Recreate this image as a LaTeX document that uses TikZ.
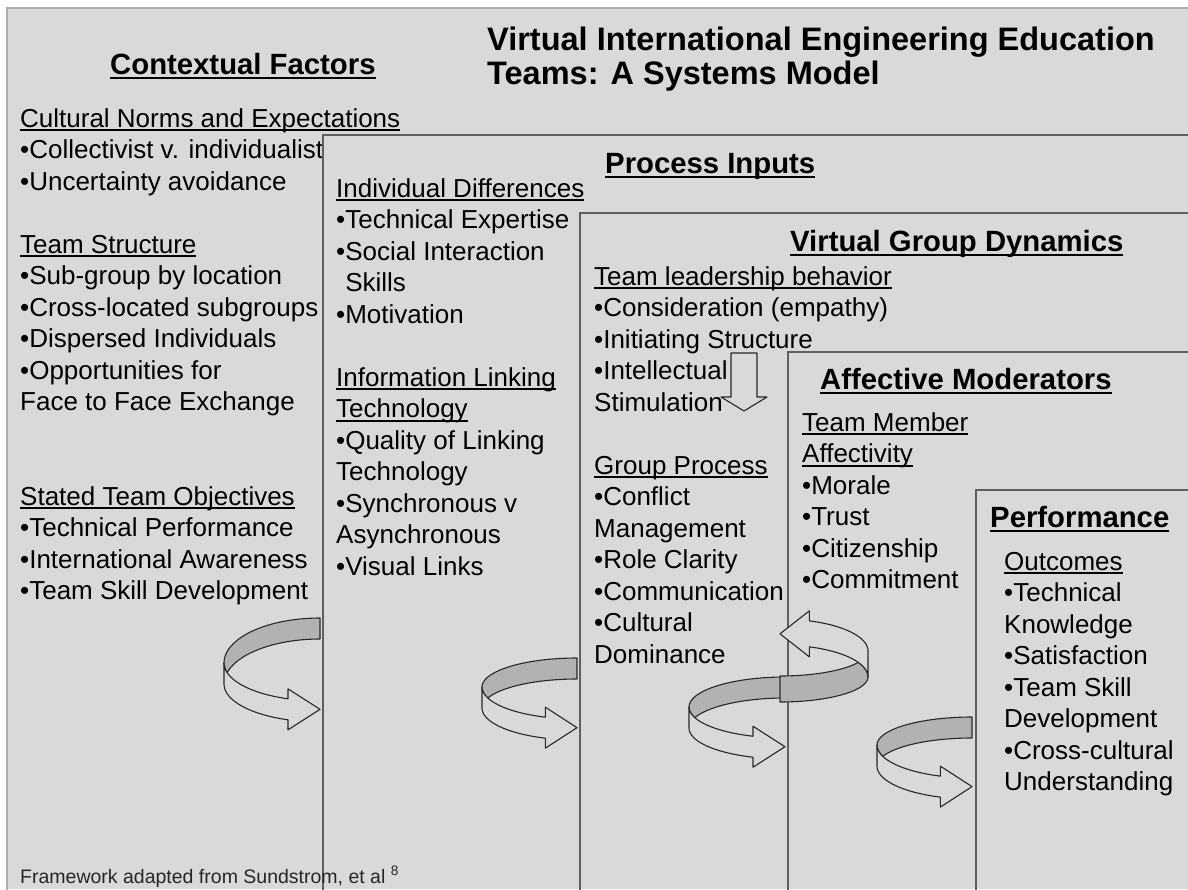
\documentclass[tikz,border=0pt]{standalone}
\usepackage{fontspec}
\setmainfont{Liberation Sans}
\usetikzlibrary{positioning}

\definecolor{panelgray}{RGB}{217,217,217}
\definecolor{boxline}{RGB}{95,95,95}
\definecolor{framegray}{RGB}{175,175,175}
\definecolor{bandgray}{RGB}{178,178,178}
\definecolor{inkgray}{RGB}{40,40,40}

% underlined labels
\newcommand{\uline}[1]{\setbox0\hbox{#1}\rlap{\rule[-4pt]{\wd0}{1.6pt}}\box0}
\newcommand{\headuline}[1]{\setbox0\hbox{#1}\rlap{\rule[-5pt]{\wd0}{2.4pt}}\box0}

% one nested stage box, open to the right and bottom
\newcommand{\stagebox}[2]{%
  \fill[panelgray] (#1,#2) rectangle (1188,889);
  \draw[stageline] (1190,#2) -- (#1,#2) -- (#1,891);}

% circular ribbon arrow: x, y, rotation, a, back b, front b, band height
\newcommand{\cycarrow}[7]{%
  \begin{scope}[shift={(#1,#2)}, rotate=#3]
    \pgfmathsetmacro\tA{180-asin(#7/(#5+#6))}
    \pgfmathsetmacro\tB{180+asin(#7/(#5+#6))}
    \pgfmathsetmacro\yS{#6*0.9428}
    \filldraw[ribbon, fill=bandgray]
      plot[domain=270:180, samples=30] ({#4*cos(\x)},{#5*sin(\x)})
      -- plot[domain=180:\tA, samples=8] ({#4*cos(\x)},{#6*sin(\x)})
      -- plot[domain=\tB:270, samples=30] ({#4*cos(\x)},{#7+#5*sin(\x)}) -- cycle;
    \filldraw[ribbon, fill=panelgray]
      plot[domain=180:109.47, samples=30] ({#4*cos(\x)},{#6*sin(\x)})
      -- ({-#4/3},{\yS-10}) -- (0,{\yS+#7/2}) -- ({-#4/3},{\yS+#7+10})
      -- ({-#4/3},{\yS+#7})
      -- plot[domain=109.47:180, samples=30] ({#4*cos(\x)},{#7+#6*sin(\x)}) -- cycle;
  \end{scope}}

\tikzset{
  stageline/.style={boxline, line width=1.5pt},
  ribbon/.style={inkgray, line width=1.1pt, line join=round},
  body/.style={anchor=base west, inner sep=0pt, text=black, font=\fontsize{26}{31.5}\selectfont},
  heading/.style={anchor=base west, inner sep=0pt, text=black, font=\bfseries\fontsize{29.3}{34}\selectfont},
  title/.style={anchor=base west, inner sep=0pt, text=black, font=\bfseries\fontsize{32.5}{34}\selectfont},
  footnote/.style={anchor=base west, inner sep=0pt, text=black!85, font=\fontsize{19.5}{23}\selectfont}
}

\begin{document}
\begin{tikzpicture}[x=1pt, y=-1pt]
  % Canvas
  \useasboundingbox (0,0) rectangle (1188,889);
  \fill[white] (0,0) rectangle (1188,889);
  \fill[panelgray] (7,8) rectangle (1188,889);
  \draw[framegray, line width=1.5pt] (1190,8) -- (7,8) -- (7,891);

  % Title
  \node[title] (title) at (487,50) {Virtual International Engineering Education};
  \node[title] (title2) at (487,84) {Teams: A Systems Model};

  % Contextual Factors
  \node[heading] (context) at (110,74) {\headuline{Contextual Factors}};
  \foreach \i/\txt in {0/{\uline{Cultural Norms and Expectations}}, 1/{•Collectivist v. individualist},
      2/{•Uncertainty avoidance}, 4/{\uline{Team Structure}}, 5/{•Sub-group by location},
      6/{•Cross-located subgroups}, 7/{•Dispersed Individuals}, 8/{•Opportunities for},
      9/{Face to Face Exchange}, 12/{\uline{Stated Team Objectives}}, 13/{•Technical Performance},
      14/{•International Awareness}, 15/{•Team Skill Development}}
    \node[body] (ctx\i) at (20,{127+31.5*\i}) {\txt};

  % Process Inputs
  \stagebox{323}{135}
  \node[heading] (inputs) at (605,173) {\headuline{Process Inputs}};
  \foreach \i/\txt in {0/{\uline{Individual Differences}}, 1/{•Technical Expertise},
      2/{•Social Interaction}, 3/{\phantom{•}Skills}, 4/{•Motivation},
      6/{\uline{Information Linking}}, 7/{\uline{Technology}}, 8/{•Quality of Linking},
      9/{Technology}, 10/{•Synchronous v}, 11/{Asynchronous}, 12/{•Visual Links}}
    \node[body] (inp\i) at (336,{197+31.5*\i}) {\txt};

  % Virtual Group Dynamics
  \stagebox{580}{213}
  \node[heading] (dynamics) at (790,251) {\headuline{Virtual Group Dynamics}};
  \foreach \i/\txt in {0/{\uline{Team leadership behavior}}, 1/{•Consideration (empathy)},
      2/{•Initiating Structure}, 3/{•Intellectual}, 4/{Stimulation},
      6/{\uline{Group Process}}, 7/{•Conflict}, 8/{Management}, 9/{•Role Clarity},
      10/{•Communication}, 11/{•Cultural}, 12/{Dominance}}
    \node[body] (dyn\i) at (594,{285+31.5*\i}) {\txt};
  \draw[ribbon] (731,353) -- (731,397) -- (721,397) -- (744,411) -- (767,397)
    -- (757,397) -- (757,353) -- cycle;

  % Affective Moderators
  \stagebox{788}{352}
  \node[heading] (moderators) at (820,389) {\headuline{Affective Moderators}};
  \foreach \i/\txt in {0/{\uline{Team Member}}, 1/{\uline{Affectivity}}, 2/{•Morale},
      3/{•Trust}, 4/{•Citizenship}, 5/{•Commitment}}
    \node[body] (mod\i) at (802,{431+31.5*\i}) {\txt};

  % Performance
  \stagebox{976}{490}
  \node[heading] (performance) at (990,527) {\headuline{Performance}};
  \foreach \i/\txt in {0/{\uline{Outcomes}}, 1/{•Technical}, 2/{Knowledge},
      3/{•Satisfaction}, 4/{•Team Skill}, 5/{Development}, 6/{•Cross-cultural},
      7/{Understanding}}
    \node[body] (perf\i) at (1004,{570+31.5*\i}) {\txt};

  % Feedback loops between stages
  \cycarrow{320}{663}{0}{96}{45}{38}{21}
  \cycarrow{577}{687}{0}{95}{29}{32}{21}
  \cycarrow{785}{707}{0}{96}{30}{31}{21}
  \cycarrow{780}{677}{180}{88}{25}{32}{26}
  \cycarrow{972}{745}{0}{95}{28}{33}{21}

  % Source note
  \node[footnote] (source) at (20,883) {Framework adapted from Sundstrom, et al \textsuperscript{8}};
\end{tikzpicture}
\end{document}
